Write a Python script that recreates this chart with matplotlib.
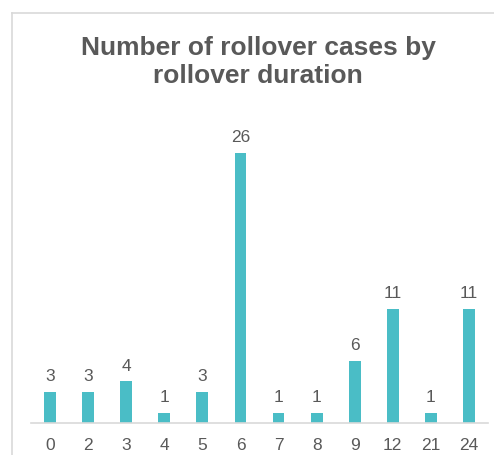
import matplotlib
matplotlib.use("Agg")
import matplotlib.pyplot as plt
from matplotlib.lines import Line2D

# ─── Data ────────────────────────────────────────────────────────────────────

durations = ["0", "2", "3", "4", "5", "6", "7", "8", "9", "12", "21", "24"]
cases = [3, 3, 4, 1, 3, 26, 1, 1, 6, 11, 1, 11]

TITLE = "Number of rollover cases by\nrollover duration"

# ─── Style ───────────────────────────────────────────────────────────────────

BAR_COLOR = "#4ABDC6"
TEXT_COLOR = "#595959"
LINE_COLOR = "#D9D9D9"

plt.rcParams["font.family"] = ["Liberation Sans", "DejaVu Sans"]

W, H = 494, 456
fig = plt.figure(figsize=(W / 100, H / 100), dpi=100)

# outer chart frame (cropped by the image edges)
fig.add_artist(Line2D([12 / W, 12 / W], [-0.1, 1 - 14 / H], transform=fig.transFigure,
                      color=LINE_COLOR, linewidth=1.2))
fig.add_artist(Line2D([12 / W, 1.1], [1 - 14 / H, 1 - 14 / H], transform=fig.transFigure,
                      color=LINE_COLOR, linewidth=1.2))

# plot area in pixels: x 31..488, baseline at y=424
left, right = 31 / W, 488 / W
bottom = (H - 424) / H
top = (H - (424 - 30 * 10.4)) / H
ax = fig.add_axes([left, bottom, right - left, top - bottom])

x = range(len(durations))
bars = ax.bar(x, cases, width=0.31, color=BAR_COLOR, zorder=2)

for xi, v in zip(x, cases):
    ax.annotate(str(v), (xi, v), xytext=(0, 6), textcoords="offset points",
                ha="center", va="bottom", fontsize=12.5, color=TEXT_COLOR)

ax.set_xlim(-0.5, len(durations) - 0.5)
ax.set_ylim(0, 30)
ax.set_xticks(list(x))
ax.set_xticklabels(durations)
ax.set_yticks([])
ax.tick_params(axis="x", length=0, pad=10, labelsize=12.5, labelcolor=TEXT_COLOR)

for side in ["top", "right", "left"]:
    ax.spines[side].set_visible(False)
ax.spines["bottom"].set_color(LINE_COLOR)
ax.spines["bottom"].set_linewidth(1.2)

fig.text(258 / W, 1 - 36 / H, TITLE, ha="center", va="top", fontsize=19,
         fontweight="bold", color=TEXT_COLOR, linespacing=1.2)

fig.savefig("out.png", dpi=100, facecolor="white")
